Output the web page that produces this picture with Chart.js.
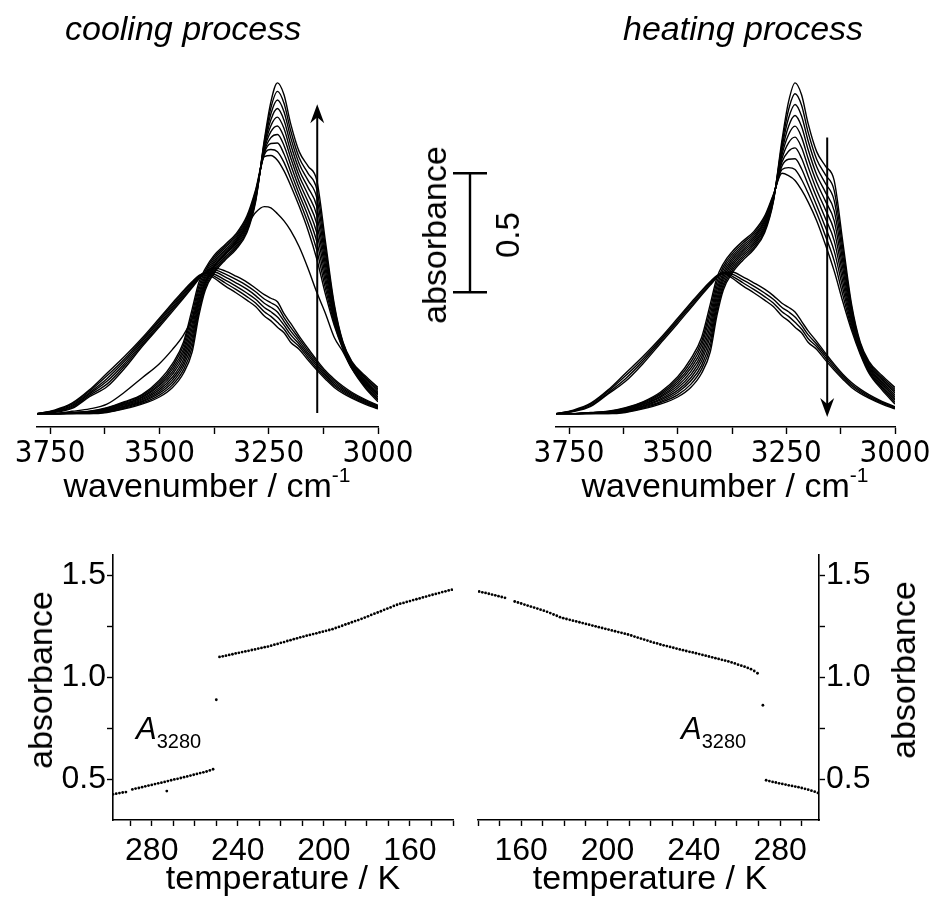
<!DOCTYPE html>
<html>
<head>
<meta charset="utf-8">
<title>IR spectra - cooling and heating</title>
<script src="https://cdn.jsdelivr.net/npm/chart.js@4.4.1/dist/chart.umd.min.js"></script>
<style>
  body { margin: 0; background: #fff; font-family: "Liberation Sans", Arial, sans-serif; color: #000; }
  #page { position: relative; width: 937px; height: 903px; overflow: hidden; }
  #page canvas { position: absolute; left: 0; top: 0; }
  .t { position: absolute; white-space: nowrap; font-size: 34px; line-height: 34px; }
  .ctr { transform: translateX(-50%); }
  .rot { transform: translate(-50%, -50%) rotate(-90deg); }
  .sup { font-size: 21px; position: relative; top: -15px; }
  .sub { font-size: 20px; position: relative; top: 9px; }
</style>
</head>
<body>
<div id="page">
  <canvas id="coolSpec" width="937" height="903"></canvas>
  <canvas id="heatSpec" width="937" height="903"></canvas>
  <canvas id="coolTemp" width="937" height="903"></canvas>
  <canvas id="heatTemp" width="937" height="903"></canvas>

  <div class="t" style="left:65px;top:11px;font-style:italic">cooling process</div>
  <div class="t" style="left:623px;top:11px;font-style:italic">heating process</div>

  <div class="t ctr" style="left:207px;top:468px">wavenumber / cm<span class="sup">-1</span></div>
  <div class="t ctr" style="left:725px;top:468px">wavenumber / cm<span class="sup">-1</span></div>

  <div class="t rot" style="left:434px;top:235px">absorbance</div>
  <div class="t rot" style="left:508px;top:235px;font-size:33px">0.5</div>

  <div class="t rot" style="left:40px;top:680px">absorbance</div>
  <div class="t rot" style="left:903px;top:670px">absorbance</div>

  <div class="t ctr" style="left:283px;top:860px">temperature / K</div>
  <div class="t ctr" style="left:650px;top:860px">temperature / K</div>

  <div class="t" style="left:136px;top:713px;font-size:31px;line-height:31px"><i>A</i><span class="sub">3280</span></div>
  <div class="t" style="left:681px;top:713px;font-size:31px;line-height:31px"><i>A</i><span class="sub">3280</span></div>
</div>

<script>
// ---- spettri IR: numeri d'onda comuni (cm-1) ----
const wavenumbers = [3780, 3740, 3700, 3660, 3620, 3580, 3540, 3500,
                     3470, 3445, 3425, 3410, 3395, 3375, 3350, 3325, 3300, 3280,
                     3260, 3245, 3230, 3215, 3200, 3180, 3160, 3140, 3120, 3100,
                     3080, 3060, 3030, 3000];

// raffreddamento: ghiaccio (dal piu freddo al piu caldo)
const coolIce1  = [.01,.01,.010,.010,.015,.030,.050,.080, .120,.180,.270,.420,.530,.600,.655,.700,.770,.900, 1.160,1.320,1.400,1.350,1.230,1.110,1.050,.990,.730,.470, .310,.230,.170,.120];
const coolIce2  = [.01,.01,.011,.011,.017,.033,.054,.088, .131,.194,.290,.436,.540,.608,.662,.707,.778,.906, 1.152,1.295,1.364,1.314,1.201,1.084,1.020,.953,.706,.460, .307,.227,.164,.113];
const coolIce3  = [.01,.01,.011,.012,.019,.037,.059,.096, .142,.209,.310,.451,.550,.617,.669,.714,.786,.911, 1.144,1.270,1.328,1.279,1.172,1.059,.990,.917,.681,.450, .303,.223,.159,.107];
const coolIce4  = [.01,.01,.012,.013,.022,.040,.063,.103, .153,.223,.330,.467,.560,.625,.677,.722,.793,.917, 1.137,1.245,1.292,1.243,1.143,1.033,.960,.880,.657,.440, .300,.220,.153,.100];
const coolIce5  = [.01,.01,.012,.014,.024,.043,.068,.111, .164,.238,.350,.482,.570,.633,.684,.729,.801,.922, 1.129,1.220,1.256,1.208,1.114,1.008,.930,.843,.632,.430, .297,.217,.148,.093];
const coolIce6  = [.01,.01,.013,.016,.026,.047,.072,.119, .176,.252,.370,.498,.580,.642,.691,.736,.809,.928, 1.121,1.195,1.219,1.172,1.086,.982,.900,.807,.608,.420, .293,.213,.142,.087];
const coolIce7  = [.01,.01,.013,.017,.028,.050,.077,.127, .187,.267,.390,.513,.590,.650,.698,.743,.817,.933, 1.113,1.170,1.183,1.137,1.057,.957,.870,.770,.583,.410, .290,.210,.137,.080];
const coolIce8  = [.01,.01,.014,.018,.031,.053,.081,.134, .198,.281,.410,.529,.600,.658,.706,.751,.824,.939, 1.106,1.145,1.147,1.101,1.028,.931,.840,.733,.559,.400, .287,.207,.131,.073];
const coolIce9  = [.01,.01,.014,.019,.033,.057,.086,.142, .209,.296,.430,.544,.610,.667,.713,.758,.832,.944, 1.098,1.120,1.111,1.066,.999,.906,.810,.697,.534,.390, .283,.203,.126,.067];
const coolIce10 = [.01,.01,.015,.020,.035,.060,.090,.150, .220,.310,.450,.560,.620,.675,.720,.765,.840,.950, 1.090,1.095,1.075,1.030,.970,.880,.780,.660,.510,.380, .280,.200,.120,.060];
// curva di transizione
const coolMixed = [.01,.01,.02,.03,.05,.10,.16,.22, .28,.34,.41,.48,.56,.63,.68,.73,.80,.855, .88,.875,.85,.82,.78,.71,.62,.52,.43,.33, .27,.20,.14,.095];
// raffreddamento: liquido (dal piu caldo al piu freddo)
const coolLiq1 = [.01,.025,.054,.110,.180,.250,.327,.411, .475,.527,.565,.590,.600,.580,.547,.518,.487,.460, .420,.400,.373,.350,.310,.280,.235,.193,.155,.120, .095,.075,.050,.030];
const coolLiq2 = [.01,.023,.050,.104,.169,.240,.320,.404, .468,.521,.560,.587,.601,.588,.560,.532,.502,.475, .438,.419,.394,.366,.326,.291,.245,.201,.162,.127, .101,.080,.054,.033];
const coolLiq3 = [.01,.021,.045,.098,.157,.230,.313,.397, .461,.514,.555,.584,.602,.597,.572,.546,.517,.491, .456,.438,.416,.382,.342,.302,.255,.210,.169,.134, .107,.085,.058,.036];
const coolLiq4 = [.01,.019,.041,.093,.146,.220,.305,.389, .454,.508,.550,.581,.602,.605,.585,.560,.533,.506, .474,.457,.437,.398,.358,.313,.264,.218,.176,.141, .113,.090,.062,.039];
const coolLiq5 = [.01,.017,.036,.087,.134,.210,.298,.382, .447,.501,.545,.578,.603,.614,.597,.574,.548,.522, .492,.476,.459,.414,.374,.324,.274,.227,.183,.148, .119,.095,.066,.042];
const coolLiq6 = [.01,.015,.032,.081,.123,.200,.291,.375, .440,.495,.540,.575,.604,.622,.610,.588,.563,.537, .510,.495,.480,.430,.390,.335,.284,.235,.190,.155, .125,.100,.070,.045];

// riscaldamento: ghiaccio (dal piu freddo al piu caldo)
const heatIce1  = [.01,.01,.010,.010,.015,.030,.050,.080, .120,.180,.270,.420,.530,.600,.655,.700,.770,.900, 1.160,1.320,1.400,1.350,1.230,1.110,1.050,.990,.730,.470, .310,.230,.170,.120];
const heatIce2  = [.01,.01,.011,.011,.017,.033,.056,.089, .133,.197,.292,.438,.542,.610,.664,.708,.778,.903, 1.144,1.286,1.354,1.306,1.193,1.078,1.013,.948,.702,.458, .304,.224,.163,.112];
const heatIce3  = [.01,.01,.011,.012,.019,.037,.061,.099, .147,.213,.314,.456,.554,.620,.673,.717,.786,.907, 1.129,1.251,1.309,1.261,1.157,1.046,.977,.906,.674,.446, .299,.219,.157,.104];
const heatIce4  = [.01,.01,.012,.013,.022,.040,.067,.108, .160,.230,.337,.473,.567,.630,.682,.725,.793,.910, 1.113,1.217,1.263,1.217,1.120,1.013,.940,.863,.647,.433, .293,.213,.150,.097];
const heatIce5  = [.01,.01,.012,.014,.024,.043,.072,.118, .173,.247,.359,.491,.579,.640,.691,.733,.801,.913, 1.098,1.182,1.218,1.172,1.083,.981,.903,.821,.619,.421, .288,.208,.143,.089];
const heatIce6  = [.01,.01,.013,.016,.026,.047,.078,.127, .187,.263,.381,.509,.591,.650,.699,.742,.809,.917, 1.082,1.148,1.172,1.128,1.047,.949,.867,.779,.591,.409, .282,.202,.137,.081];
const heatIce7  = [.01,.01,.013,.017,.028,.050,.083,.137, .200,.280,.403,.527,.603,.660,.708,.750,.817,.920, 1.067,1.113,1.127,1.083,1.010,.917,.830,.737,.563,.397, .277,.197,.130,.073];
const heatIce8  = [.01,.01,.014,.018,.031,.053,.089,.146, .213,.297,.426,.544,.616,.670,.717,.758,.824,.923, 1.051,1.079,1.081,1.039,.973,.884,.793,.694,.536,.384, .271,.191,.123,.066];
const heatIce9  = [.01,.01,.014,.019,.033,.057,.094,.156, .227,.313,.448,.562,.628,.680,.726,.767,.832,.927, 1.036,1.044,1.036,.994,.937,.852,.757,.652,.508,.372, .266,.186,.117,.058];
const heatIce10 = [.01,.01,.015,.020,.035,.060,.100,.165, .240,.330,.470,.580,.640,.690,.735,.775,.840,.930, 1.020,1.010,.990,.950,.900,.820,.720,.610,.480,.360, .260,.180,.110,.050];
// riscaldamento: liquido
const heatLiq1 = [.01,.025,.054,.110,.180,.250,.327,.411, .475,.527,.565,.590,.600,.580,.547,.518,.487,.460, .420,.400,.373,.350,.310,.280,.235,.193,.155,.120, .095,.075,.050,.030];
const heatLiq2 = [.01,.023,.050,.104,.169,.240,.320,.404, .468,.521,.560,.587,.601,.588,.560,.532,.502,.475, .438,.419,.394,.366,.326,.291,.245,.201,.162,.127, .101,.080,.054,.033];
const heatLiq3 = [.01,.021,.045,.098,.157,.230,.313,.397, .461,.514,.555,.584,.602,.597,.572,.546,.517,.491, .456,.438,.416,.382,.342,.302,.255,.210,.169,.134, .107,.085,.058,.036];
const heatLiq4 = [.01,.019,.041,.093,.146,.220,.305,.389, .454,.508,.550,.581,.602,.605,.585,.560,.533,.506, .474,.457,.437,.398,.358,.313,.264,.218,.176,.141, .113,.090,.062,.039];

// ---- A3280 vs temperatura ----
const coolLiqT = [298,296.5,295,293.5,292,289,287.5,286,284.5,283,281.5,280,278.5,277,275.5,274,272.5,271,269.5,268,266.5,265,263.5,262,260.5,259,257.5,256,254.5,253,251.5];
const coolLiqA = [.426,.429,.432,.435,.437,.450,.454,.457,.461,.465,.469,.472,.476,.480,.483,.487,.491,.495,.499,.502,.506,.510,.514,.518,.522,.526,.530,.534,.538,.543,.549];
const coolOddT = [273, 250];
const coolOddA = [.442, .89];
const coolIceT = [248.5,247,245.5,244,242.5,241,239.5,238,236.5,235,
                  233.5,232,230.5,229,227.5,226,224.5,223,221.5,220,
                  218.5,217,215.5,214,212.5,211,209.5,208,206.5,205,
                  203.5,202,200.5,199,197.5,196,194.5,193,191.5,190,
                  188.5,187,185.5,184,182.5,181,179.5,178,176.5,175,
                  173.5,172,170.5,169,167.5,166,164.5,163,161.5,160,
                  158.5,157,155.5,154,152.5,151,149.5,148,146.5,145,
                  143.5,142,140.5];
const coolIceA = [1.100,1.103,1.106,1.110,1.113,1.117,1.120,1.124,1.127,1.130,
                  1.134,1.137,1.141,1.144,1.148,1.151,1.155,1.160,1.164,1.169,
                  1.173,1.178,1.182,1.187,1.191,1.196,1.200,1.204,1.208,1.212,
                  1.216,1.220,1.224,1.228,1.232,1.236,1.242,1.247,1.253,1.259,
                  1.264,1.270,1.276,1.281,1.287,1.293,1.299,1.306,1.312,1.318,
                  1.324,1.331,1.337,1.343,1.350,1.356,1.361,1.365,1.370,1.374,
                  1.379,1.383,1.387,1.392,1.396,1.401,1.405,1.409,1.413,1.418,
                  1.422,1.426,1.430];

const heatIceT = [140.5,142,143.5,145,146.5,148,149.5,151,152.5,
                  157,158.5,160,161.5,163,164.5,166,167.5,169,170.5,
                  172,173.5,175,176.5,178,179.5,181,182.5,184,185.5,
                  187,188.5,190,191.5,193,194.5,196,197.5,199,200.5,
                  202,203.5,205,206.5,208,209.5,211,212.5,214,215.5,
                  217,218.5,220,221.5,223,224.5,226,227.5,229,230.5,
                  232,233.5,235,236.5,238,239.5,241,242.5,244,245.5,
                  247,248.5,250,251.5,253,254.5,256,257.5,259,260.5,
                  262,263.5,265,266.5,268,269.5];
const heatIceA = [1.421,1.417,1.414,1.410,1.406,1.402,1.398,1.394,1.390,
                  1.372,1.367,1.362,1.357,1.352,1.347,1.342,1.337,1.332,1.327,
                  1.321,1.315,1.308,1.302,1.295,1.290,1.286,1.282,1.278,1.274,
                  1.270,1.266,1.262,1.258,1.254,1.250,1.246,1.242,1.238,1.234,
                  1.230,1.226,1.222,1.218,1.214,1.210,1.205,1.200,1.195,1.190,
                  1.185,1.180,1.175,1.170,1.166,1.161,1.157,1.153,1.149,1.145,
                  1.141,1.137,1.133,1.129,1.125,1.122,1.118,1.114,1.110,1.106,
                  1.102,1.098,1.094,1.090,1.086,1.082,1.078,1.073,1.068,1.062,
                  1.057,1.052,1.046,1.040,1.031,1.020];
const heatOddT = [272];
const heatOddA = [.863];
const heatLiqT = [273.5,275,276.5,278,279.5,281,282.5,284,285.5,287,288.5,290,291.5,293,294.5,296,297.5];
const heatLiqA = [.495,.491,.487,.484,.480,.477,.474,.470,.467,.464,.461,.457,.453,.449,.444,.439,.433];

// ---- stile comune ----
const FONT = { family: "'Liberation Sans', Arial, sans-serif", size: 32 };
const FONT_NARROW = { family: "'Liberation Sans Narrow', 'Arial Narrow', 'DejaVu Sans Condensed', sans-serif", size: 31 };
const BLACK = '#000';

function spectrum(values) {
  return {
    data: wavenumbers.map((w, i) => ({ x: w, y: values[i] })),
    borderColor: BLACK, borderWidth: 1.4, pointRadius: 0,
    cubicInterpolationMode: 'monotone', fill: false
  };
}
function points(ts, as) {
  return {
    data: ts.map((t, i) => ({ x: t, y: as[i] })),
    backgroundColor: BLACK, borderColor: BLACK, pointRadius: 1.4, borderWidth: 0, showLine: false
  };
}

// freccia (in unita dei dati)
const arrowPlugin = {
  id: 'arrow',
  afterDatasetsDraw(chart, args, opts) {
    if (opts.x === undefined) return;
    const ctx = chart.ctx, xs = chart.scales.x, ys = chart.scales.y;
    const px = xs.getPixelForValue(opts.x);
    const y0 = ys.getPixelForValue(opts.from);
    const y1 = ys.getPixelForValue(opts.to);
    const dir = y1 < y0 ? -1 : 1;
    ctx.save();
    ctx.strokeStyle = BLACK; ctx.fillStyle = BLACK; ctx.lineWidth = 2;
    ctx.beginPath(); ctx.moveTo(px, y0); ctx.lineTo(px, y1 - dir * 8); ctx.stroke();
    ctx.beginPath();
    ctx.moveTo(px, y1);
    ctx.lineTo(px - 7, y1 - dir * 19);
    ctx.lineTo(px, y1 - dir * 13);
    ctx.lineTo(px + 7, y1 - dir * 19);
    ctx.closePath(); ctx.fill();
    ctx.restore();
  }
};

// barra di scala dell'assorbanza (0.5)
const scaleBarPlugin = {
  id: 'scaleBar',
  afterDraw(chart, args, opts) {
    if (opts.px === undefined) return;
    const ctx = chart.ctx, ys = chart.scales.y;
    const yA = ys.getPixelForValue(opts.from), yB = ys.getPixelForValue(opts.to);
    ctx.save();
    ctx.strokeStyle = BLACK; ctx.lineWidth = 2.4;
    ctx.beginPath();
    ctx.moveTo(opts.px, yA); ctx.lineTo(opts.px, yB);
    ctx.moveTo(opts.px - opts.half, yA); ctx.lineTo(opts.px + opts.half, yA);
    ctx.moveTo(opts.px - opts.half, yB); ctx.lineTo(opts.px + opts.half, yB);
    ctx.stroke();
    ctx.restore();
  }
};

function spectrumChart(id, sets, pad, arrow, bar) {
  return new Chart(document.getElementById(id), {
    type: 'line',
    data: { datasets: sets.map(spectrum) },
    plugins: [arrowPlugin, scaleBarPlugin],
    options: {
      responsive: false, animation: false, events: [],
      layout: { padding: pad },
      plugins: { legend: { display: false }, tooltip: { enabled: false }, arrow: arrow, scaleBar: bar },
      scales: {
        x: {
          type: 'linear', reverse: true, min: 3000, max: 3780,
          afterFit: s => { s.height = 40; },
          border: { display: true, color: BLACK, width: 1.6 },
          grid: { display: true, drawOnChartArea: false, drawTicks: true, tickLength: 7, tickColor: BLACK, tickWidth: 1.4 },
          ticks: {
            stepSize: 125, includeBounds: false, autoSkip: false, maxRotation: 0, padding: 1,
            color: BLACK, font: FONT_NARROW,
            callback: v => (v % 250 === 0 ? String(v) : '')
          }
        },
        y: { display: false, min: -0.046, max: 1.454 }
      }
    }
  });
}

function tempChart(id, sets, pad, yPos) {
  return new Chart(document.getElementById(id), {
    type: 'scatter',
    data: { datasets: sets },
    options: {
      responsive: false, animation: false, events: [],
      layout: { padding: pad },
      plugins: { legend: { display: false }, tooltip: { enabled: false } },
      scales: {
        x: {
          type: 'linear', reverse: yPos === 'left', min: 140, max: 298,
          afterFit: s => { s.height = 45; },
          border: { display: true, color: BLACK, width: 1.6 },
          grid: { display: true, drawOnChartArea: false, drawTicks: true, tickLength: 6, tickColor: BLACK, tickWidth: 1.4 },
          ticks: {
            stepSize: 10, includeBounds: false, autoSkip: false, maxRotation: 0, padding: 6,
            color: BLACK, font: FONT,
            callback: v => (v % 40 === 0 ? String(v) : '')
          }
        },
        y: {
          type: 'linear', position: yPos, min: 0.3, max: 1.6,
          afterFit: s => { s.width = 60; },
          border: { display: true, color: BLACK, width: 1.6 },
          grid: { display: true, drawOnChartArea: false, drawTicks: true, tickLength: 6, tickColor: BLACK, tickWidth: 1.4 },
          ticks: {
            stepSize: 0.25, includeBounds: false, autoSkip: false, padding: 1,
            color: BLACK, font: FONT,
            callback: v => (Math.abs(v * 2 - Math.round(v * 2)) < 1e-6 ? v.toFixed(1) : '')
          }
        }
      }
    }
  });
}

// pannello in alto a sinistra: raffreddamento
spectrumChart('coolSpec',
  [coolLiq1, coolLiq2, coolLiq3, coolLiq4, coolLiq5, coolLiq6, coolMixed,
   coolIce10, coolIce9, coolIce8, coolIce7, coolIce6, coolIce5, coolIce4, coolIce3, coolIce2, coolIce1],
  { left: 37, right: 559, top: 70, bottom: 436 },
  { x: 3139, from: 0.013, to: 1.31 },
  { px: 470, from: 0.52, to: 1.02, half: 17 });

// pannello in alto a destra: riscaldamento
spectrumChart('heatSpec',
  [heatLiq1, heatLiq2, heatLiq3, heatLiq4,
   heatIce10, heatIce9, heatIce8, heatIce7, heatIce6, heatIce5, heatIce4, heatIce3, heatIce2, heatIce1],
  { left: 556, right: 42, top: 70, bottom: 436 },
  { x: 3156, from: 1.17, to: -0.004 },
  {});

// pannello in basso a sinistra
tempChart('coolTemp',
  [points(coolLiqT, coolLiqA), points(coolOddT, coolOddA), points(coolIceT, coolIceA)],
  { left: 53, right: 484, top: 555, bottom: 38 }, 'left');

// pannello in basso a destra
tempChart('heatTemp',
  [points(heatIceT, heatIceA), points(heatOddT, heatOddA), points(heatLiqT, heatLiqA)],
  { left: 478, right: 58, top: 555, bottom: 38 }, 'right');
</script>
</body>
</html>
